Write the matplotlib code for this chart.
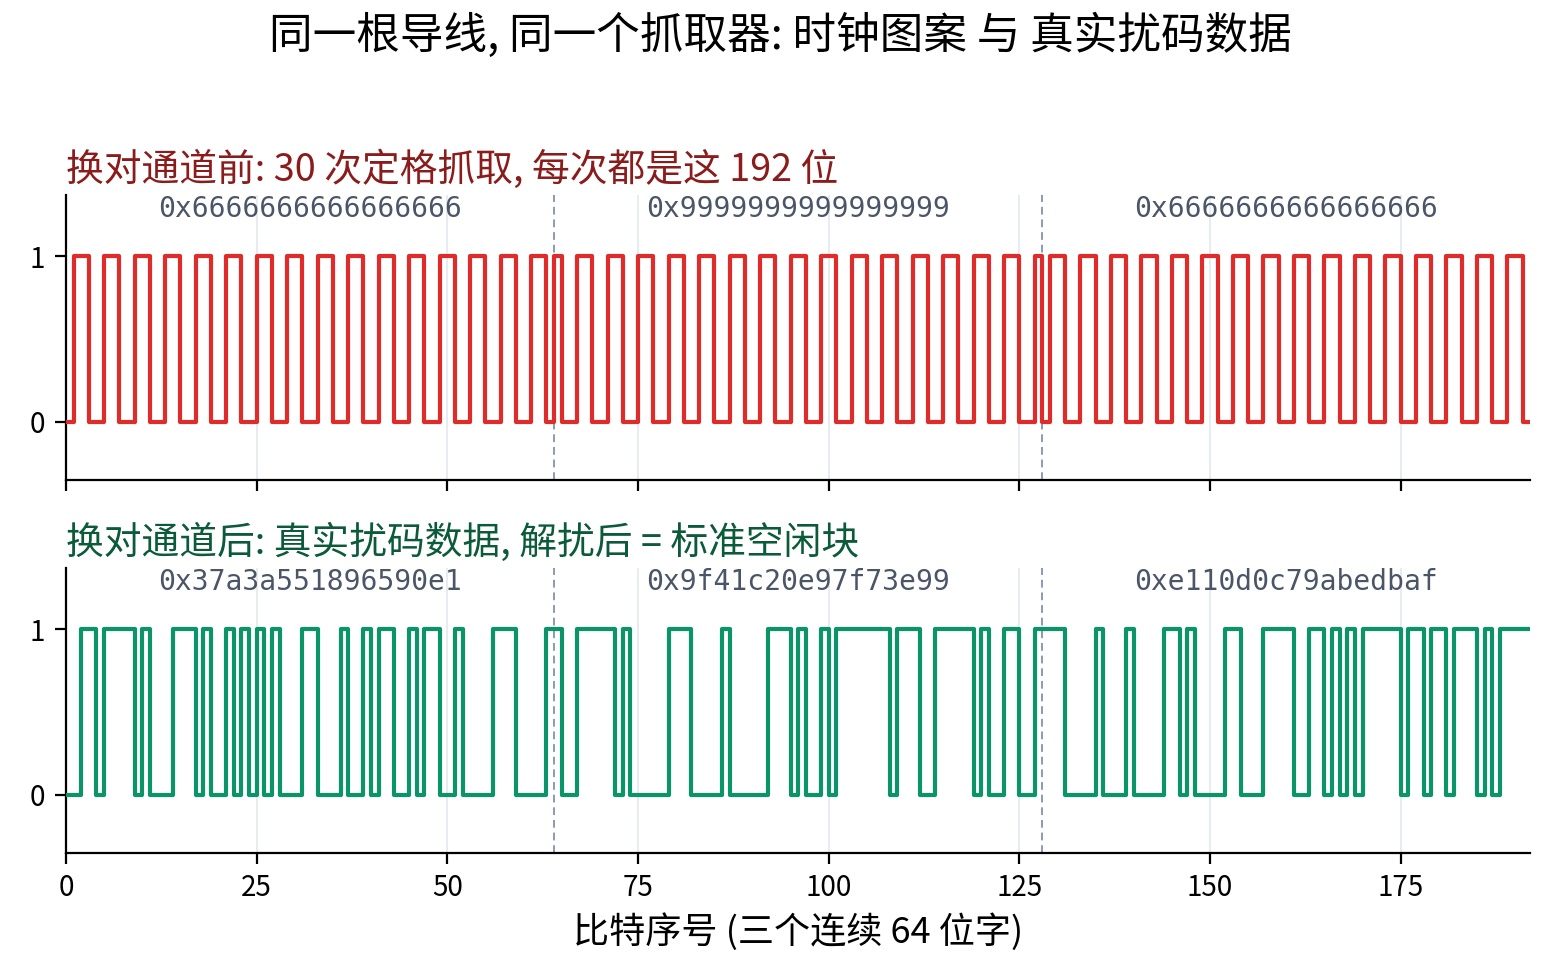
import numpy as np
import matplotlib
matplotlib.use('Agg')
import matplotlib.pyplot as plt

plt.rcParams['font.family'] = ['Noto Sans CJK SC', 'DejaVu Sans']

# dati: tre parole da 64 bit per ciascun pannello
parole_prima = ['0x6666666666666666', '0x9999999999999999', '0x6666666666666666']
parole_dopo = ['0x37a3a551896590e1', '0x9f41c20e97f73e99', '0xe110d0c79abedbaf']

titolo = '同一根导线, 同一个抓取器: 时钟图案 与 真实扰码数据'
titolo_sopra = '换对通道前: 30 次定格抓取, 每次都是这 192 位'
titolo_sotto = '换对通道后: 真实扰码数据, 解扰后 = 标准空闲块'
etichetta_x = '比特序号 (三个连续 64 位字)'
tick_x = [0, 25, 50, 75, 100, 125, 150, 175]


def bit_da_hex(parole):
    bits = []
    for p in parole:
        bits += [int(c) for c in format(int(p, 16), '064b')]
    return np.array(bits)


fig, axs = plt.subplots(2, 1, figsize=(7.8, 4.9), dpi=200, sharex=True)
fig.subplots_adjust(left=0.0423, right=0.981, top=0.801, bottom=0.130, hspace=0.31)

pannelli = [(parole_prima, '#e02b2b', titolo_sopra, '#8b1c1c'),
            (parole_dopo, '#0b9467', titolo_sotto, '#0b5a3a')]

for ax, (parole, colore, tit, col_tit) in zip(axs, pannelli):
    b = bit_da_hex(parole)
    x = np.arange(len(b) + 1)
    y = np.append(b, b[-1])
    ax.step(x, y, where='post', color=colore, lw=1.5, zorder=3)
    for k in range(1, len(parole)):
        ax.axvline(64 * k, color='#8a9ab5', lw=0.7, ls=(0, (4, 2.5)), zorder=2)
    for k, p in enumerate(parole):
        ax.text(64 * k + 32, 1.285, p, ha='center', va='center',
                family='DejaVu Sans Mono', fontsize=10.1, color='#4a5568')
    ax.set_xlim(0, 192)
    ax.set_ylim(-0.35, 1.37)
    ax.set_yticks([0, 1])
    ax.set_xticks(tick_x)
    ax.grid(axis='x', color='#e3e8f0', lw=0.6)
    ax.set_axisbelow(True)
    ax.spines['top'].set_visible(False)
    ax.spines['right'].set_visible(False)
    for s in ['left', 'bottom']:
        ax.spines[s].set_linewidth(0.8)
    ax.tick_params(labelsize=10, width=0.8, length=4)
    ax.set_title(tit, loc='left', fontsize=13.6, color=col_tit, pad=5)

axs[1].set_xlabel(etichetta_x, fontsize=13, labelpad=3.5)
fig.suptitle(titolo, fontsize=15.7, y=0.963, va='center')

plt.savefig('out.png')
